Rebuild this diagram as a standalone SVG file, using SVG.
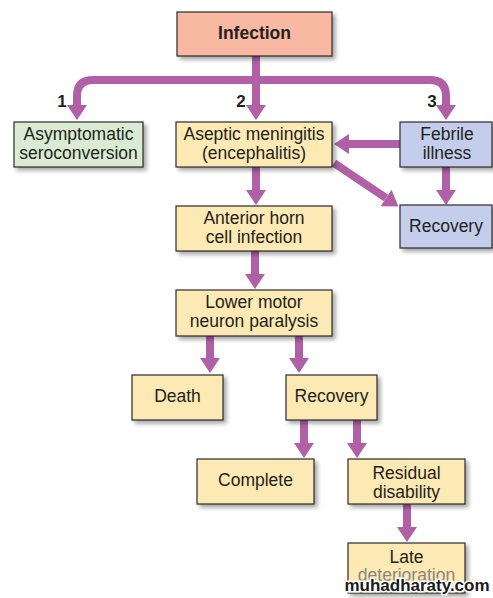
<svg xmlns="http://www.w3.org/2000/svg" width="493" height="598" viewBox="0 0 493 598">
<defs>
<filter id="sh" x="-10%" y="-10%" width="130%" height="140%">
<feGaussianBlur in="SourceAlpha" stdDeviation="2"/>
<feOffset dx="3" dy="3" result="b"/>
<feComponentTransfer><feFuncA type="linear" slope="0.35"/></feComponentTransfer>
<feMerge><feMergeNode/><feMergeNode in="SourceGraphic"/></feMerge>
</filter>
<marker id="ah" markerUnits="userSpaceOnUse" markerWidth="15" markerHeight="20" refX="0" refY="10" orient="auto" viewBox="0 0 15 20">
<path d="M0,0 L15,10 L0,20 z" fill="#b160a8"/>
</marker>
</defs>
<style>
.box{stroke:#2b2b2b;stroke-width:1.2;filter:url(#sh)}
.inf{fill:#f8b8a2}
.grn{fill:#d9ebd3}
.yel{fill:#fde9b3}
.blu{fill:#c4cdeb}
text{font-family:"Liberation Sans",Arial,sans-serif;font-size:17.5px;fill:#231f20;text-anchor:middle}
.b{font-weight:bold}
.num{font-weight:bold;font-size:17px}
.con path{fill:none;stroke:#b160a8;stroke-width:8;marker-end:url(#ah)}
</style>
<rect width="493" height="598" fill="#ffffff"/>
<g class="con" id="connectors">
<path d="M256,56 V105"/>
<path d="M256,80 H93 Q77,80 77,96 V105"/>
<path d="M256,80 H430 Q446,80 446,96 V105"/>
<path d="M400,144 H349"/>
<path d="M334,163 L386,198"/>
<path d="M446,167 V190"/>
<path d="M256,167 V190"/>
<path d="M255,251 V274"/>
<path d="M210,336 V358"/>
<path d="M299,336 V358"/>
<path d="M304,420 V443"/>
<path d="M357,420 V443"/>
<path d="M407,504 V527"/>
</g>
<text class="num" x="62" y="107">1</text>
<text class="num" x="241" y="107">2</text>
<text class="num" x="432" y="107">3</text>
<g id="infection"><rect class="box inf" x="177" y="12" width="155" height="44"/><text class="b" x="254.5" y="39">Infection</text></g>
<g id="asymptomatic"><rect class="box grn" x="14" y="122" width="129" height="45"/><text x="78.5" y="140">Asymptomatic</text><text x="78.5" y="158.5">seroconversion</text></g>
<g id="aseptic"><rect class="box yel" x="176" y="122" width="156" height="45"/><text x="254" y="140">Aseptic meningitis</text><text x="254" y="158.5">(encephalitis)</text></g>
<g id="febrile"><rect class="box blu" x="400" y="122" width="92" height="45"/><text x="447" y="140">Febrile</text><text x="447" y="158.5">illness</text></g>
<g id="recovery1"><rect class="box blu" x="400" y="205" width="92" height="43"/><text x="446" y="232">Recovery</text></g>
<g id="anterior"><rect class="box yel" x="176" y="206" width="156" height="45"/><text x="254" y="224">Anterior horn</text><text x="254" y="242.5">cell infection</text></g>
<g id="lower"><rect class="box yel" x="176" y="290" width="156" height="46"/><text x="254" y="308">Lower motor</text><text x="254" y="326.5">neuron paralysis</text></g>
<g id="death"><rect class="box yel" x="132" y="375" width="91" height="45"/><text x="177.5" y="402">Death</text></g>
<g id="recovery2"><rect class="box yel" x="286" y="375" width="91" height="45"/><text x="331.5" y="402">Recovery</text></g>
<g id="complete"><rect class="box yel" x="197" y="459" width="117" height="45"/><text x="255.5" y="486">Complete</text></g>
<g id="residual"><rect class="box yel" x="348" y="459" width="117" height="45"/><text x="406.5" y="479">Residual</text><text x="406.5" y="497.5">disability</text></g>
<g id="late"><rect class="box yel" x="348" y="543" width="117" height="50"/><text x="406.5" y="563">Late</text><text x="406.5" y="581" style="fill:#8a8580">deterioration</text></g>
<text x="417" y="591" style="font-weight:bold;font-size:17px;fill:#1a1a1a;stroke:#ffffff;stroke-width:3;paint-order:stroke">muhadharaty.com</text>
</svg>
